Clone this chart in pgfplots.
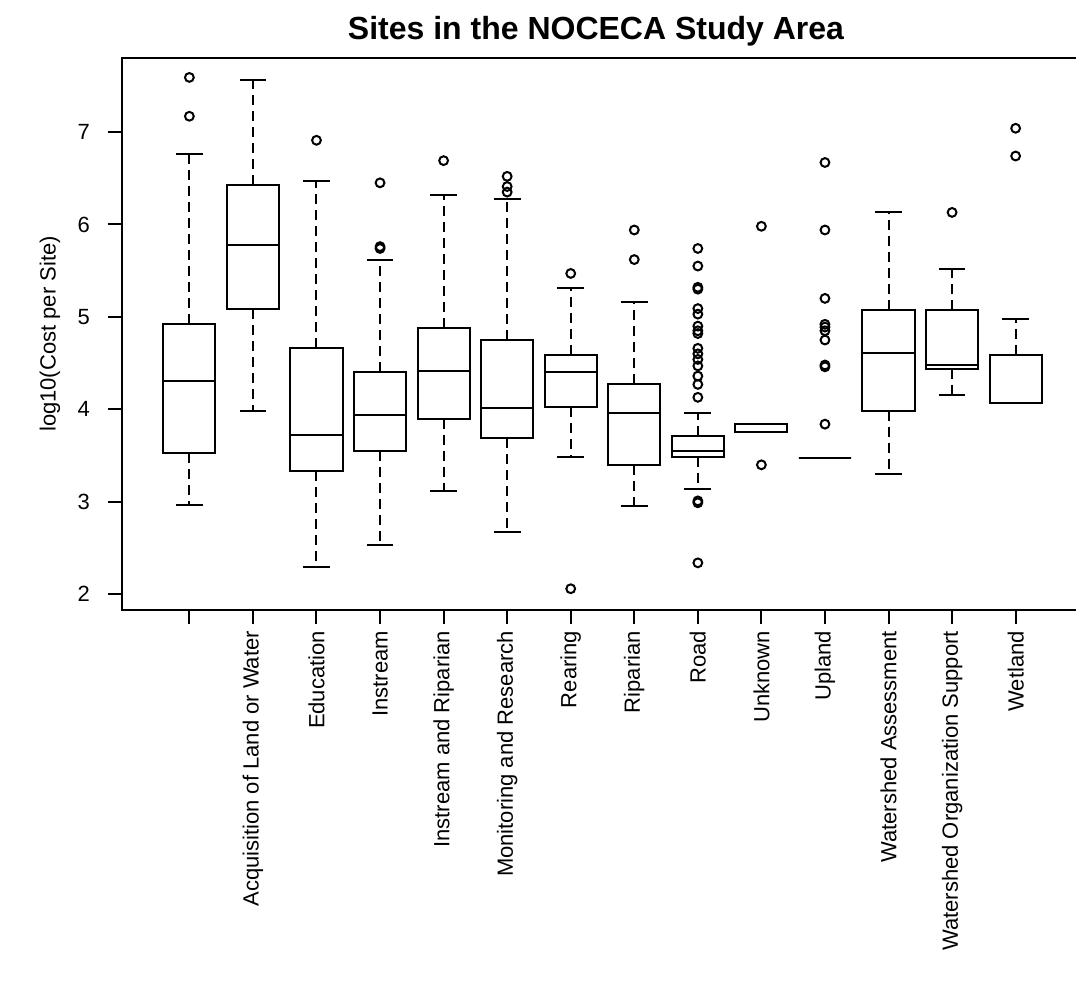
\documentclass[border=0pt]{standalone}
\usepackage{pgfplots}
\pgfplotsset{compat=1.18}
\usepgfplotslibrary{statistics}
\usepackage{fontspec}
\setmainfont{Liberation Sans}
\pgfplotsset{
  rbox/.style={black, line width=1pt, mark=o, mark size=2.2pt, mark options={solid, line width=1pt},
    boxplot/draw direction=y,
    boxplot/every box/.style={draw=black, line width=1pt},
    boxplot/every median/.style={draw=black, line width=1pt},
    boxplot/every whisker/.style={draw=black, line width=1pt}},
  boxplot/draw/lower whisker/.code={%
    \draw[/pgfplots/boxplot/every whisker/.try, dash pattern=on 5pt off 3pt]
      (boxplot box cs:\pgfplotsboxplotvalue{lower quartile},0.5) -- (boxplot box cs:\pgfplotsboxplotvalue{lower whisker},0.5);
    \draw[/pgfplots/boxplot/every whisker/.try]
      (boxplot whisker cs:\pgfplotsboxplotvalue{lower whisker},0) -- (boxplot whisker cs:\pgfplotsboxplotvalue{lower whisker},1);
  },
  boxplot/draw/upper whisker/.code={%
    \draw[/pgfplots/boxplot/every whisker/.try, dash pattern=on 5pt off 3pt]
      (boxplot box cs:\pgfplotsboxplotvalue{upper quartile},0.5) -- (boxplot box cs:\pgfplotsboxplotvalue{upper whisker},0.5);
    \draw[/pgfplots/boxplot/every whisker/.try]
      (boxplot whisker cs:\pgfplotsboxplotvalue{upper whisker},0) -- (boxplot whisker cs:\pgfplotsboxplotvalue{upper whisker},1);
  },
}
\begin{document}
\begin{tikzpicture}
\begin{axis}[
  scale only axis, width=480.5pt, height=276pt,
  xmin=-0.06, xmax=15.06, ymin=1.83, ymax=7.80,
  axis line style={line width=1pt},
  xtick={1,...,14},
  xticklabels={{}, Acquisition of Land or Water, Education, Instream, Instream and Riparian, Monitoring and Research, Rearing, Riparian, Road, Unknown, Upland, Watershed Assessment, Watershed Organization Support, Wetland},
  ytick={2,...,7},
  tick align=outside, tick pos=left,
  major tick length=7pt,
  tick style={line width=1pt, black},
  xticklabel style={rotate=90, anchor=east, font=\fontsize{11}{13}\selectfont},
  yticklabel style={font=\fontsize{11}{13}\selectfont, xshift=-5.5pt},
  /pgf/number format/assume math mode=true,
  ylabel={log10(Cost per Site)},
  every axis y label/.style={at={(axis description cs:-0.0749,0.5)}, rotate=90, anchor=center, font=\fontsize{11}{13}\selectfont},
  title={Sites in the NOCECA Study Area},
  every axis title/.style={at={(axis description cs:0.4932,1)}, yshift=13.5pt, anchor=center, font=\fontsize{16}{19}\selectfont\bfseries},
  boxplot/box extend=0.82, boxplot/whisker extend=0.42,
]
\addplot[rbox, boxplot prepared={draw position=1, lower whisker=2.97, lower quartile=3.53, median=4.31, upper quartile=4.92, upper whisker=6.76}]
  coordinates {(0,7.59) (0,7.17)};
\addplot[rbox, boxplot prepared={draw position=2, lower whisker=3.98, lower quartile=5.09, median=5.78, upper quartile=6.43, upper whisker=7.56}]
  coordinates {};
\addplot[rbox, boxplot prepared={draw position=3, lower whisker=2.30, lower quartile=3.33, median=3.72, upper quartile=4.66, upper whisker=6.47}]
  coordinates {(0,6.91)};
\addplot[rbox, boxplot prepared={draw position=4, lower whisker=2.53, lower quartile=3.55, median=3.94, upper quartile=4.40, upper whisker=5.61}]
  coordinates {(0,6.45) (0,5.74) (0,5.76)};
\addplot[rbox, boxplot prepared={draw position=5, lower whisker=3.12, lower quartile=3.90, median=4.42, upper quartile=4.88, upper whisker=6.32}]
  coordinates {(0,6.69)};
\addplot[rbox, boxplot prepared={draw position=6, lower whisker=2.67, lower quartile=3.69, median=4.01, upper quartile=4.75, upper whisker=6.28}]
  coordinates {(0,6.52) (0,6.41) (0,6.35)};
\addplot[rbox, boxplot prepared={draw position=7, lower whisker=3.49, lower quartile=4.03, median=4.40, upper quartile=4.59, upper whisker=5.31}]
  coordinates {(0,5.47) (0,2.06)};
\addplot[rbox, boxplot prepared={draw position=8, lower whisker=2.95, lower quartile=3.40, median=3.96, upper quartile=4.27, upper whisker=5.16}]
  coordinates {(0,5.94) (0,5.62)};
\addplot[rbox, boxplot prepared={draw position=9, lower whisker=3.14, lower quartile=3.49, median=3.55, upper quartile=3.71, upper whisker=3.96}]
  coordinates {(0,5.74) (0,5.55) (0,5.30) (0,5.32) (0,5.09) (0,5.03) (0,4.90) (0,4.82) (0,4.85) (0,4.66) (0,4.60) (0,4.54) (0,4.47) (0,4.36) (0,4.27) (0,4.13) (0,2.99) (0,3.01) (0,2.34)};
\addplot[rbox, boxplot prepared={draw position=10, lower whisker=3.75, lower quartile=3.75, median=3.76, upper quartile=3.84, upper whisker=3.84}]
  coordinates {(0,5.98) (0,3.40)};
\addplot[rbox, boxplot prepared={draw position=11, lower whisker=3.47, lower quartile=3.47, median=3.47, upper quartile=3.47, upper whisker=3.47}]
  coordinates {(0,6.67) (0,5.94) (0,5.20) (0,4.92) (0,4.89) (0,4.85) (0,4.75) (0,4.46) (0,4.48) (0,3.84)};
\addplot[rbox, boxplot prepared={draw position=12, lower whisker=3.30, lower quartile=3.98, median=4.61, upper quartile=5.07, upper whisker=6.13}]
  coordinates {};
\addplot[rbox, boxplot prepared={draw position=13, lower whisker=4.16, lower quartile=4.44, median=4.48, upper quartile=5.07, upper whisker=5.52}]
  coordinates {(0,6.13)};
\addplot[rbox, boxplot prepared={draw position=14, lower whisker=4.07, lower quartile=4.07, median=4.07, upper quartile=4.59, upper whisker=4.98}]
  coordinates {(0,7.04) (0,6.74)};
\end{axis}
\pgfresetboundingbox
\path[use as bounding box] ([shift={(-61pt,-198.5pt)}]current axis.south west) rectangle ([shift={(477pt,305pt)}]current axis.south west);
\end{tikzpicture}
\end{document}
